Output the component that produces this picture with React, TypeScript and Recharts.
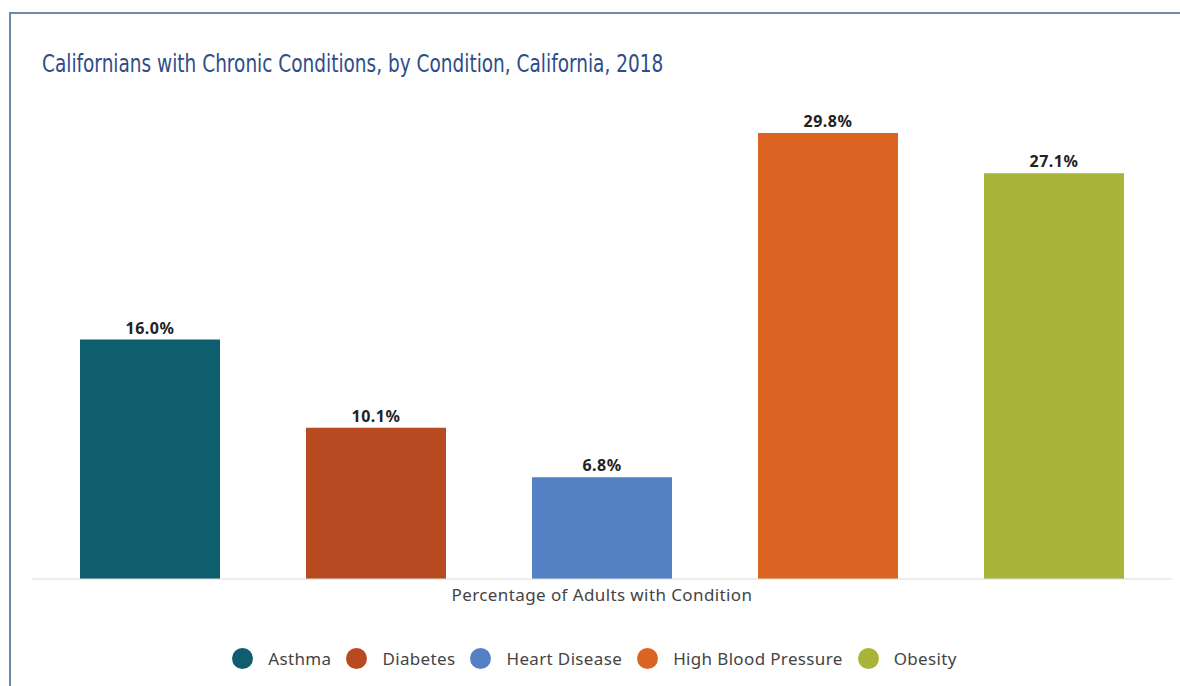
import { BarChart, Bar, XAxis, YAxis, Legend, LabelList } from 'recharts';

const categories = ['Percentage of Adults with Condition'];
const seriesNames = ['Asthma', 'Diabetes', 'Heart Disease', 'High Blood Pressure', 'Obesity'];
const seriesValues = [16.0, 10.1, 6.8, 29.8, 27.1];
const seriesColors = ['#0e5e6e', '#b84a22', '#5480c4', '#dc6423', '#a7b437'];

const chartData = categories.map((name, i) => {
  const row: Record<string, string | number> = { name };
  seriesNames.forEach((s, j) => {
    row[s] = seriesValues[j + i * seriesNames.length];
  });
  return row;
});

const labelFont = '"Noto Sans", "Open Sans", sans-serif';

const CustomLegend = () => (
  <div
    style={{
      display: 'flex',
      justifyContent: 'center',
      alignItems: 'center',
      fontFamily: labelFont,
      fontSize: 17,
      letterSpacing: 0.35,
      color: '#444',
    }}
  >
    {seriesNames.map((s, i) => (
      <div key={s} style={{ display: 'flex', alignItems: 'center', marginRight: 15 }}>
        <span
          style={{ width: 21, height: 21, borderRadius: '50%', background: seriesColors[i], display: 'inline-block', marginRight: 15 }}
        />
        <span>{s}</span>
      </div>
    ))}
  </div>
);

export default function App() {
  return (
    <div style={{ position: 'fixed', left: 0, top: 0, width: 1180, height: 686, background: '#fff', overflow: 'hidden' }}>
      <div
        style={{
          position: 'absolute',
          left: 9,
          top: 12,
          width: 1180,
          height: 700,
          borderTop: '2px solid #7289a5',
          borderLeft: '2px solid #7289a5',
        }}
      />
      <div
        style={{
          position: 'absolute',
          left: 42,
          top: 49,
          fontFamily: '"DejaVu Sans", sans-serif',
          fontSize: 25,
          color: '#2f4c88',
          whiteSpace: 'nowrap',
          transform: 'scaleX(0.74)',
          transformOrigin: 'left top',
        }}
      >
        Californians with Chronic Conditions, by Condition, California, 2018
      </div>
      <div style={{ position: 'absolute', left: 0, top: 0 }}>
        <BarChart
          width={1180}
          height={686}
          data={chartData}
          margin={{ top: 100, right: 8, left: 32, bottom: 16 }}
          barGap={86}
        >
          <XAxis
            dataKey="name"
            tickLine={false}
            axisLine={{ stroke: '#dcdcdc' }}
            tickMargin={4}
            height={68}
            tick={{ fill: '#444', fontSize: 17, letterSpacing: 0.4, fontFamily: labelFont }}
          />
          <YAxis hide domain={[0, 32]} />
          <Legend verticalAlign="bottom" content={<CustomLegend />} />
          {seriesNames.map((s, i) => (
            <Bar key={s} dataKey={s} fill={seriesColors[i]} barSize={140} isAnimationActive={false}>
              <LabelList
                dataKey={s}
                position="top"
                offset={6}
                formatter={(v: any) => `${Number(v).toFixed(1)}%`}
                style={{ fill: '#222', fontSize: 16, letterSpacing: 0.5, fontWeight: 700, fontFamily: labelFont }}
              />
            </Bar>
          ))}
        </BarChart>
      </div>
    </div>
  );
}
